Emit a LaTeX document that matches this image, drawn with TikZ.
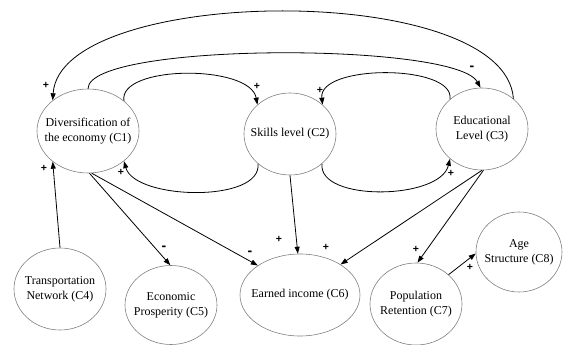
\documentclass[tikz,border=0pt]{standalone}
\usepackage{fontspec}
\setmainfont{Liberation Serif}
\newfontfamily\signfont{Liberation Sans}
\usetikzlibrary{shapes.geometric,arrows.meta}
\begin{document}
\begin{tikzpicture}[x=1pt,y=-1pt,
  concept/.style={ellipse, draw=black!50, line width=0.6pt, inner sep=0pt},
  caption/.style={align=center, inner sep=0pt, font=\fontsize{12}{15}\selectfont},
  link/.style={draw=black, line width=0.8pt, -{Triangle[length=7pt,width=5pt]}},
  sign/.style={font=\signfont\bfseries\fontsize{10.5}{10.5}\selectfont, inner sep=0pt},
  minus/.style={font=\signfont\bfseries\fontsize{14}{14}\selectfont, inner sep=0pt}]
\useasboundingbox (0,0) rectangle (566,345);

% concepts
\node[concept, minimum width=102pt, minimum height=84pt,
  label={[caption]center:{Diversification of\\the economy (C1)}}] (C1) at (88,131) {};
\node[concept, minimum width=92pt, minimum height=82pt,
  label={[caption]center:{Skills level (C2)}}] (C2) at (290,134) {};
\node[concept, minimum width=92pt, minimum height=82pt,
  label={[caption]center:{Educational\\Level (C3)}}] (C3) at (482,129) {};
\node[concept, minimum width=92pt, minimum height=82pt,
  label={[caption]center:{Transportation\\Network (C4)}}] (C4) at (60,289) {};
\node[concept, minimum width=92pt, minimum height=79pt,
  label={[caption]center:{Economic\\Prosperity (C5)}}] (C5) at (171,305) {};
\node[concept, minimum width=120pt, minimum height=82pt,
  label={[caption]center:{Earned income (C6)}}] (C6) at (300,295) {};
\node[concept, minimum width=92pt, minimum height=82pt,
  label={[caption]center:{Population\\Retention (C7)}}] (C7) at (416,304) {};
\node[concept, minimum width=86pt, minimum height=80pt,
  label={[caption]center:{Age\\Structure (C8)}}] (C8) at (519,252) {};

% feedback arcs over and under the top row
\draw[link] (C3.44) .. controls (505,-20) and (60,-15) .. (C1.139);
\draw[link] (C1.90) .. controls (88,42) and (455,42) .. (C3.92);
\draw[link] (C1.40) .. controls (118,65) and (250,64) .. (C2.138);
\draw[link] (C3.137) .. controls (455,64) and (318,64) .. (C2.42);
\draw[link] (C2.223) .. controls (262,203) and (135,200) .. (C1.-40);
\draw[link] (C2.317) .. controls (318,202) and (440,200) .. (C3.223);

% straight links
\draw[link] (C4.90) -- (C1.221);
\draw[link] (C1.-88) -- (C5.91);
\draw[link] (C1.-85) -- (C6.145);
\draw[link] (C2.-90) -- (C6.93);
\draw[link] (C3.-90) -- (C6.37);
\draw[link] (C3.-88) -- (C7.88);
\draw[link] (C7.42) -- (C8.182);

% polarity signs
\node[sign]  (s1)  at (46,85)   {+};
\node[minus] (s2)  at (472,68)  {-};
\node[sign]  (s3)  at (257,86)  {+};
\node[sign]  (s4)  at (320,90)  {+};
\node[sign]  (s5)  at (121,172) {+};
\node[sign]  (s6)  at (451,173) {+};
\node[sign]  (s7)  at (44,168)  {+};
\node[minus] (s8)  at (164,248) {-};
\node[minus] (s9)  at (250,253) {-};
\node[sign]  (s10) at (279,239) {+};
\node[sign]  (s11) at (326,247) {+};
\node[sign]  (s12) at (416,249) {+};
\node[sign]  (s13) at (470,267) {+};
\end{tikzpicture}
\end{document}
